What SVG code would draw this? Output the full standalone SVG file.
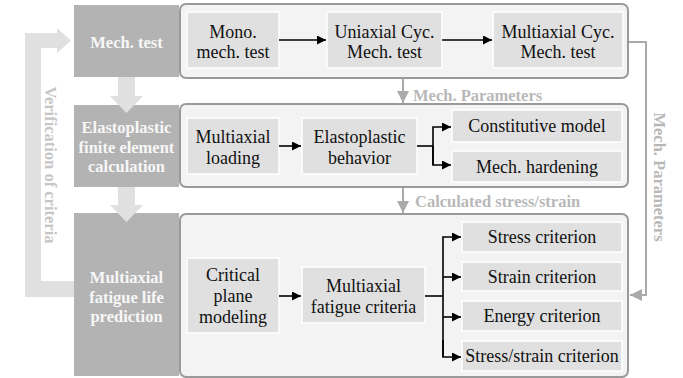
<svg xmlns="http://www.w3.org/2000/svg" width="683" height="378" viewBox="0 0 683 378">
<style>
.stage{fill:#b3b3b3}
.stxt{font-family:'Liberation Serif','Times New Roman',serif;font-weight:bold;font-size:16.5px;fill:#f7f7f7;text-anchor:middle;dominant-baseline:central}
.panel{fill:#f3f3f3;stroke:#9a9a9a;stroke-width:2}
.box{fill:#e0e0e0;stroke:#ffffff;stroke-width:1.5}
.t{font-family:'Liberation Serif','Times New Roman',serif;font-size:18px;fill:#111111;text-anchor:middle;dominant-baseline:central}
.blk{fill:none;stroke:#000;stroke-width:1.6}
.gry{fill:none;stroke:#aaaaaa;stroke-width:2}
.glab{font-family:'Liberation Serif','Times New Roman',serif;font-weight:bold;font-size:16.5px;fill:#b8b8b8}
.fat{fill:#e0e0e0}
</style>
<defs>
<marker id="ab" viewBox="0 0 10 10" refX="10" refY="5" markerWidth="10" markerHeight="9" markerUnits="userSpaceOnUse" orient="auto"><path d="M0,0 L10,5 L0,10 z" fill="#000"/></marker>
<marker id="ag" viewBox="0 0 10 10" refX="10" refY="5" markerWidth="12" markerHeight="12" markerUnits="userSpaceOnUse" orient="auto"><path d="M0,0 L10,5 L0,10 z" fill="#aaaaaa"/></marker>
</defs>

<!-- feedback arrow -->
<g id="feedback">
<polygon class="fat" points="57,28 71,40.5 57,53 57,48 41,48 41,281 74,281 74,297 25,297 25,33 57,33"/>
<text class="glab" style="fill:#c6c6c6;text-anchor:middle;dominant-baseline:central" transform="translate(50,165) rotate(90)">Verification of criteria</text>
</g>

<!-- panels -->
<g id="panel1"><rect class="panel" x="180" y="4" width="448" height="74" rx="6"/></g>
<g id="panel2"><rect class="panel" x="180" y="104" width="448" height="83" rx="6"/></g>
<g id="panel3"><rect class="panel" x="180" y="214" width="448" height="163" rx="6"/></g>

<!-- stages -->
<g id="stage1"><rect class="stage" x="74" y="5" width="105" height="72"/><text class="stxt" x="126.5" y="42">Mech. test</text></g>
<g id="stage2"><rect class="stage" x="74" y="105" width="105" height="82"/>
<text class="stxt" x="126.5" y="127">Elastoplastic</text><text class="stxt" x="126.5" y="147">finite element</text><text class="stxt" x="126.5" y="166">calculation</text></g>
<g id="stage3"><rect class="stage" x="74" y="213" width="105" height="163"/>
<text class="stxt" x="126.5" y="277">Multiaxial</text><text class="stxt" x="126.5" y="297">fatigue life</text><text class="stxt" x="126.5" y="316">prediction</text></g>

<!-- fat down arrows -->
<g id="downarrows">
<polygon class="fat" points="118,77 135,77 135,96 143,96 126.5,113 110,96 118,96"/>
<polygon class="fat" points="118,187 135,187 135,205 143,205 126.5,222 110,205 118,205"/>
</g>

<!-- inner boxes -->
<g id="mono"><rect class="box" x="187" y="12" width="92" height="56"/><text class="t" x="233" y="32">Mono.</text><text class="t" x="233" y="52">mech. test</text></g>
<g id="uni"><rect class="box" x="327" y="12" width="115" height="56"/><text class="t" x="384.5" y="32">Uniaxial Cyc.</text><text class="t" x="384.5" y="52">Mech. test</text></g>
<g id="multi"><rect class="box" x="493" y="12" width="130" height="56"/><text class="t" x="558" y="32">Multiaxial Cyc.</text><text class="t" x="558" y="52">Mech. test</text></g>

<g id="loading"><rect class="box" x="187" y="118" width="92" height="56"/><text class="t" x="233" y="137">Multiaxial</text><text class="t" x="233" y="158">loading</text></g>
<g id="behavior"><rect class="box" x="302" y="118" width="115" height="56"/><text class="t" x="359.5" y="137">Elastoplastic</text><text class="t" x="359.5" y="158">behavior</text></g>
<g id="constitutive"><rect class="box" x="452" y="110" width="170" height="32"/><text class="t" x="537" y="126">Constitutive model</text></g>
<g id="hardening"><rect class="box" x="452" y="151" width="170" height="31"/><text class="t" x="537" y="166.5">Mech. hardening</text></g>

<g id="critical"><rect class="box" x="187" y="258" width="92" height="75"/><text class="t" x="233" y="275">Critical</text><text class="t" x="233" y="296">plane</text><text class="t" x="233" y="317">modeling</text></g>
<g id="criteria"><rect class="box" x="302" y="267" width="123" height="56"/><text class="t" x="363.5" y="286">Multiaxial</text><text class="t" x="363.5" y="307">fatigue criteria</text></g>
<g id="stress"><rect class="box" x="462" y="222" width="160" height="30"/><text class="t" x="542" y="237">Stress criterion</text></g>
<g id="strain"><rect class="box" x="462" y="262" width="160" height="29"/><text class="t" x="542" y="277">Strain criterion</text></g>
<g id="energy"><rect class="box" x="462" y="301" width="160" height="30"/><text class="t" x="542" y="316">Energy criterion</text></g>
<g id="stressstrain"><rect class="box" x="462" y="341" width="160" height="30"/><text class="t" x="542" y="356">Stress/strain criterion</text></g>

<!-- connectors -->
<g id="connectors">
<line class="blk" x1="279" y1="40" x2="326" y2="40" marker-end="url(#ab)"/>
<line class="blk" x1="442" y1="40" x2="492" y2="40" marker-end="url(#ab)"/>
<line class="blk" x1="279" y1="146" x2="301" y2="146" marker-end="url(#ab)"/>
<path class="blk" d="M417,146 H433"/>
<path class="blk" d="M433,165 V127 H451" marker-end="url(#ab)"/>
<path class="blk" d="M433,146 V165 H451" marker-end="url(#ab)"/>
<line class="blk" x1="279" y1="296" x2="301" y2="296" marker-end="url(#ab)"/>
<path class="blk" d="M425,296 H443"/>
<path class="blk" d="M443,357 V237 H461" marker-end="url(#ab)"/>
<path class="blk" d="M443,277 H461" marker-end="url(#ab)"/>
<path class="blk" d="M443,317 H461" marker-end="url(#ab)"/>
<path class="blk" d="M443,340 V357 H461" marker-end="url(#ab)"/>

<line class="gry" x1="403" y1="79" x2="403" y2="103" marker-end="url(#ag)"/>
<text class="glab" x="413" y="101">Mech. Parameters</text>
<line class="gry" x1="403" y1="188" x2="403" y2="213" marker-end="url(#ag)"/>
<text class="glab" x="415" y="207">Calculated stress/strain</text>
<path class="gry" d="M629,42 H646 V295 H630" marker-end="url(#ag)"/>
<text class="glab" style="text-anchor:middle;dominant-baseline:central" transform="translate(659,177) rotate(90)">Mech. Parameters</text>
</g>
</svg>
